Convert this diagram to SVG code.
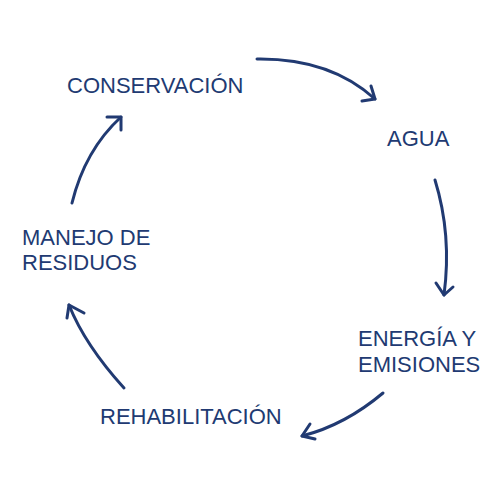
<svg xmlns="http://www.w3.org/2000/svg" width="500" height="500" viewBox="0 0 500 500">
<style>
.t{font-family:"Liberation Sans",Arial,sans-serif;font-size:22px;fill:#213a72}
.c{fill:none;stroke:#213a72;stroke-width:3;stroke-linecap:round;stroke-linejoin:round}
</style>
<rect width="500" height="500" fill="#fff"/>
<g id="conservacion"><text class="t" x="67" y="93">CONSERVACIÓN</text></g>
<g id="agua"><text class="t" x="387" y="146">AGUA</text></g>
<g id="energia"><text class="t" x="358" y="346">ENERGÍA Y</text><text class="t" x="358" y="372">EMISIONES</text></g>
<g id="rehabilitacion"><text class="t" x="100" y="424">REHABILITACIÓN</text></g>
<g id="manejo"><text class="t" x="22" y="245">MANEJO DE</text><text class="t" x="22" y="270">RESIDUOS</text></g>
<g id="connectors">
<path class="c" d="M257,59 Q330,58 375,99"/>
<path class="c" d="M362,101 L375,99 L371,86"/>
<path class="c" d="M435,180 Q452,235 444,295"/>
<path class="c" d="M436,283 L444,295 L453,287"/>
<path class="c" d="M383,393 Q345,425 302,436"/>
<path class="c" d="M310,424 L302,436 L315,439"/>
<path class="c" d="M124,388 Q85,345 69,305"/>
<path class="c" d="M67,318 L69,305 L84,313"/>
<path class="c" d="M72,203 Q85,150 121,117"/>
<path class="c" d="M107,117 L121,117 L121,130"/>
</g>
</svg>
